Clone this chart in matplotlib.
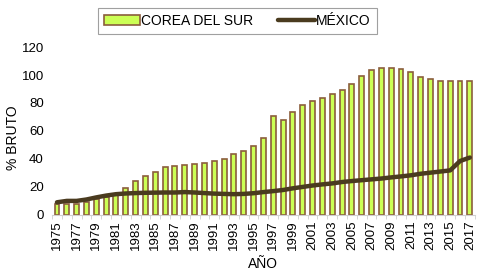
import numpy as np
import matplotlib
matplotlib.use("Agg")
import matplotlib.pyplot as plt

plt.rcParams['font.family'] = ['Liberation Sans', 'DejaVu Sans']

# Data
years = list(range(1975, 2018))
corea = [7.5, 8, 8, 9.5, 11, 13, 15, 19, 24, 28,
         31, 34, 35, 35.6, 36.2, 37.4, 38.6, 40, 43.6, 45.5,
         49.4, 55, 70.4, 68, 73.8, 78.3, 81.2, 83.9, 86.3, 89.2,
         93.8, 99, 103.4, 105, 105, 104, 102, 98.8, 97, 96,
         95.6, 95.5, 95.5]
mexico = [9, 10, 10, 11, 12.5, 13.8, 14.8, 15.3, 15.6, 15.8,
          15.9, 16, 16, 16.3, 16, 15.6, 15.2, 15, 14.8, 15,
          15.5, 16.3, 17, 17.8, 19, 20, 21, 21.8, 22.5, 23.5,
          24.2, 24.8, 25.4, 26, 26.8, 27.5, 28.3, 29.4, 30.2, 31,
          31.8, 38.5, 41]

fig = plt.figure(figsize=(4.82, 2.72), dpi=100)
ax = fig.add_axes([0.108, 0.21, 0.877, 0.617])

x = np.arange(len(years))
bars = ax.bar(x, corea, width=0.5, color="#ccff55", edgecolor="#8b5e3c",
              linewidth=1.2, label="COREA DEL SUR", zorder=2)
line, = ax.plot(x, mexico, color="#4a3b1f", linewidth=3.2, label="MÉXICO",
                zorder=3, solid_capstyle="round")

ax.set_xlim(-0.5, len(years) - 0.5)
ax.set_ylim(0, 120)
ax.set_yticks(range(0, 121, 20))
ax.set_xticks(x[::2])
ax.set_xticklabels([str(y) for y in years[::2]], rotation=90)
ax.set_xticks(np.arange(-0.5, len(years), 1), minor=True)

for s in ["top", "right", "left"]:
    ax.spines[s].set_visible(False)
ax.spines["bottom"].set_color("#d0d0d0")
ax.tick_params(axis="y", length=0, labelsize=9.5, pad=6)
ax.tick_params(axis="x", which="major", length=0, labelsize=9.5, pad=4)
ax.tick_params(axis="x", which="minor", length=3, color="#d0d0d0")

ax.set_ylabel("% BRUTO", fontsize=10)
ax.yaxis.set_label_coords(-0.076, 0.46)
ax.set_xlabel("AÑO", fontsize=10, labelpad=5)

leg = fig.legend(handles=[bars, line], loc="upper center",
                 bbox_to_anchor=(0.492, 0.972), ncol=2, fontsize=10,
                 frameon=True, fancybox=False, edgecolor="#888888",
                 handlelength=2.6, handletextpad=0.1, columnspacing=1.8,
                 borderpad=0.45, borderaxespad=0)
leg.get_frame().set_linewidth(0.8)

fig.savefig("out.png", dpi=100)
